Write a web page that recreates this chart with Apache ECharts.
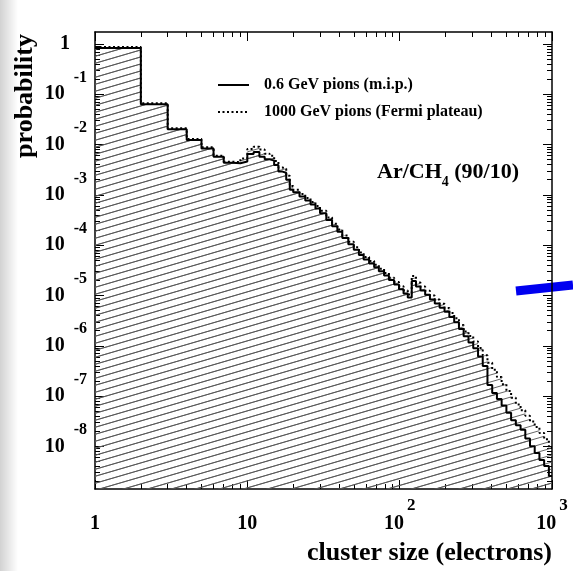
<!DOCTYPE html>
<html><head><meta charset="utf-8">
<script src="https://cdn.jsdelivr.net/npm/echarts@6/dist/echarts.min.js"></script>
<style>html,body{margin:0;padding:0;background:#fff}#c{width:573px;height:571px}</style>
</head><body><div id="c"></div>
<script>
// ---- data ----
const binEdges = [1,2,3,4,5,6,7,8,9,10,11,12,13,14,15,16,17,18,19,20,22,24,26,28,30,33,36,39,42,46,50,54,58,63,68,73,79,85,92,99,106,113,120,128,137,147,158,170,183,197,212,228,245,263,283,304,327,351,377,405,435,467,502,539,579,622,668,717,770,827,888,954,1000];
const mipValues = [0.83,0.0633,0.0201,0.0123,0.0084,0.00575,0.00437,0.00426,0.00462,0.0065,0.00713,0.00575,0.0051,0.0048,0.00393,0.0029,0.00276,0.0020,0.00126,
  1.13e-3,9.25e-4,7.74e-4,6.44e-4,5.37e-4,4.33e-4,3.17e-4,2.39e-4,1.84e-4,1.39e-4,
  1.04e-4,8.07e-5,6.35e-5,5.20e-5,4.31e-5,3.64e-5,3.04e-5,2.49e-5,2.02e-5,1.65e-5,
  1.33e-5,1.09e-5,9.12e-6,1.94e-5,1.51e-5,1.25e-5,1.03e-5,8.36e-6,6.90e-6,5.72e-6,
  4.72e-6,3.72e-6,2.94e-6,2.16e-6,1.54e-6,1.16e-6,8.91e-7,6.10e-7,3.97e-7,1.66e-7,
  1.15e-7,8.75e-8,6.47e-8,4.66e-8,3.29e-8,2.64e-8,2.13e-8,1.44e-8,1.00e-8,7.39e-9,
  5.37e-9,4.09e-9,2.58e-9];
const fermiValues = [0.87,0.0663,0.0210,0.0129,0.0088,0.0060,0.00458,0.00446,0.0053,0.0082,0.0090,0.0080,0.0066,0.0060,0.0047,0.0035,0.0033,0.0024,0.0015,
  1.27e-3,1.04e-3,8.68e-4,7.22e-4,6.02e-4,4.85e-4,3.55e-4,2.68e-4,2.06e-4,1.56e-4,
  1.17e-4,9.05e-5,7.12e-5,5.83e-5,4.83e-5,4.08e-5,3.41e-5,2.79e-5,2.26e-5,1.85e-5,
  1.53e-5,1.25e-5,1.05e-5,2.44e-5,1.81e-5,1.50e-5,1.24e-5,1.00e-5,8.28e-6,6.86e-6,
  5.66e-6,4.46e-6,3.53e-6,2.59e-6,1.92e-6,1.57e-6,1.21e-6,9.00e-7,6.47e-7,4.61e-7,
  3.32e-7,2.38e-7,1.72e-7,1.26e-7,9.29e-8,6.81e-8,5.20e-8,4.04e-8,3.13e-8,2.43e-8,
  1.84e-8,1.39e-8,9.29e-9];
const seriesNames = ['0.6 GeV pions (m.i.p.)', '1000 GeV pions (Fermi plateau)'];
const xMajorTicks = [1, 10, 100, 1000];
const yMajorTicks = [1e-8, 1e-7, 1e-6, 1e-5, 1e-4, 1e-3, 1e-2, 1e-1, 1];
const xRange = [0.99999, 1000.01];
const yRange = [1.42e-9, 1.73];

// ---- helpers ----
function stepData(vals) {
  const d = vals.map((v, i) => [binEdges[i], v]);
  d.push([binEdges[binEdges.length - 1], vals[vals.length - 1]]);
  return d;
}
function minorTicks(lo, hi) {
  const out = [];
  for (let e = Math.floor(Math.log10(lo)); e <= Math.ceil(Math.log10(hi)); e++) {
    for (let k = 2; k <= 9; k++) {
      const v = k * Math.pow(10, e);
      if (v > lo && v < hi) out.push(v);
    }
  }
  return out;
}
const xMinor = minorTicks(xRange[0], xRange[1]);
const yMinor = minorTicks(yRange[0], yRange[1]);

// hatch pattern
const PW = 24, PH = 7;
const pc = document.createElement('canvas');
pc.width = PW; pc.height = PH;
const g = pc.getContext('2d');
g.strokeStyle = '#555'; g.lineWidth = 0.9;
for (let m = -1; m <= 1; m++) { g.beginPath(); g.moveTo(0, PH + PH * m); g.lineTo(PW, PH * m); g.stroke(); }
const hatch = { image: pc, repeat: 'repeat' };

const FONT = '"Liberation Serif", "Times New Roman", serif';

function axisX(pos, ticks, len, line, labels) {
  return {
    type: 'log', logBase: 10, position: pos, min: xRange[0], max: xRange[1], gridIndex: 0,
    axisLine: { show: line, onZero: false, lineStyle: { color: '#000', width: 1.5 } },
    axisTick: { show: true, inside: true, length: len, customValues: ticks, lineStyle: { color: '#000', width: 1 } },
    splitLine: { show: false }, minorTick: { show: false },
    axisLabel: labels ? {
      show: true, customValues: ticks, margin: 8, color: '#000',
      formatter: v => {
        const e = Math.round(Math.log10(v));
        if (e === 0) return '{xb|1}';
        if (e === 1) return '{xb|10}';
        return '{xb|10}{xe|' + e + '}';
      },
      rich: {
        xb: { fontFamily: FONT, fontWeight: 'bold', fontSize: 20, lineHeight: 54, color: '#000' },
        xe: { fontFamily: FONT, fontWeight: 'bold', fontSize: 17, verticalAlign: 'top', padding: [0, 0, 0, 3], color: '#000' }
      }
    } : { show: false }
  };
}
function axisY(pos, ticks, len, line, labels) {
  return {
    type: 'log', logBase: 10, position: pos, min: yRange[0], max: yRange[1], gridIndex: 0,
    axisLine: { show: line, onZero: false, lineStyle: { color: '#000', width: 1.5 } },
    axisTick: { show: true, inside: true, length: len, customValues: ticks, lineStyle: { color: '#000', width: 1 } },
    splitLine: { show: false }, minorTick: { show: false },
    axisLabel: labels ? {
      show: true, customValues: ticks, margin: 8, color: '#000',
      formatter: v => {
        const e = Math.round(Math.log10(v));
        if (e === 0) return '{one|1}';
        return '{yb|10}{ye|' + e + '}';
      },
      rich: {
        one: { fontFamily: FONT, fontWeight: 'bold', fontSize: 20, lineHeight: 49, padding: [0, 17, 0, 0], color: '#000' },
        yb: { fontFamily: FONT, fontWeight: 'bold', fontSize: 20, lineHeight: 49, color: '#000' },
        ye: { fontFamily: FONT, fontWeight: 'bold', fontSize: 16, verticalAlign: 'top', padding: [0, 0, 0, 9], color: '#000' }
      }
    } : { show: false }
  };
}

const chart = echarts.init(document.getElementById('c'), null, { renderer: 'canvas' });
chart.setOption({
  animation: false,
  backgroundColor: '#fff',
  grid: { left: 95, right: 21, top: 32, bottom: 82, containLabel: false },
  xAxis: [
    axisX('bottom', xMajorTicks, 9, true, true),
    axisX('bottom', xMinor, 5, false, false),
    axisX('top', xMajorTicks, 9, true, false),
    axisX('top', xMinor, 5, false, false)
  ],
  yAxis: [
    axisY('left', yMajorTicks, 9, true, true),
    axisY('left', yMinor, 5, false, false),
    axisY('right', yMajorTicks, 9, true, false),
    axisY('right', yMinor, 5, false, false)
  ],
  legend: {
    data: seriesNames, orient: 'vertical', left: 212, top: 72,
    itemWidth: 31, itemHeight: 16, itemGap: 11, selectedMode: false,
    itemStyle: { opacity: 0 },
    textStyle: { fontFamily: FONT, fontWeight: 'bold', fontSize: 16, color: '#000', padding: [0, 0, 0, 10] }
  },
  series: [
    {
      type: 'line', name: seriesNames[1], data: stepData(fermiValues), step: 'end', symbol: 'none',
      xAxisIndex: 0, yAxisIndex: 0, color: '#000', z: 2, silent: true,
      lineStyle: { color: '#000', width: 2, type: [2, 2.5] },
      areaStyle: { color: hatch, opacity: 1, origin: 'start' }
    },
    {
      type: 'line', name: seriesNames[0], data: stepData(mipValues), step: 'end', symbol: 'none',
      xAxisIndex: 0, yAxisIndex: 0, color: '#000', z: 3, silent: true,
      lineStyle: { color: '#000', width: 2, type: 'solid' },
      areaStyle: { color: hatch, opacity: 1, origin: 'start' }
    }
  ],
  graphic: [
    { type: 'rect', silent: true, z: -10, shape: { x: 0, y: 0, width: 18, height: 571 },
      style: { fill: new echarts.graphic.LinearGradient(0, 0, 1, 0, [{ offset: 0, color: '#d2d2d2' }, { offset: 1, color: '#ffffff' }]) } },
    { type: 'line', silent: true, shape: { x1: 516, y1: 291, x2: 573, y2: 285 }, style: { stroke: '#0000f0', lineWidth: 9 } },
    { type: 'text', silent: true, x: 25, y: 96, rotation: Math.PI / 2,
      style: { text: 'probability', font: 'bold 26px ' + FONT, fill: '#000', align: 'center', verticalAlign: 'middle' } },
    { type: 'text', silent: true, x: 552, y: 553,
      style: { text: 'cluster size (electrons)', font: 'bold 26px ' + FONT, fill: '#000', align: 'right', verticalAlign: 'middle' } },
    { type: 'text', silent: true, x: 377, y: 172,
      style: {
        text: '{a|Ar/CH}{s|4}{a| (90/10)}', align: 'left', verticalAlign: 'middle',
        rich: {
          a: { fontFamily: FONT, fontWeight: 'bold', fontSize: 22, lineHeight: 34, fill: '#000' },
          s: { fontFamily: FONT, fontWeight: 'bold', fontSize: 14, verticalAlign: 'bottom', fill: '#000' }
        }
      } }
  ]
});
</script></body></html>
